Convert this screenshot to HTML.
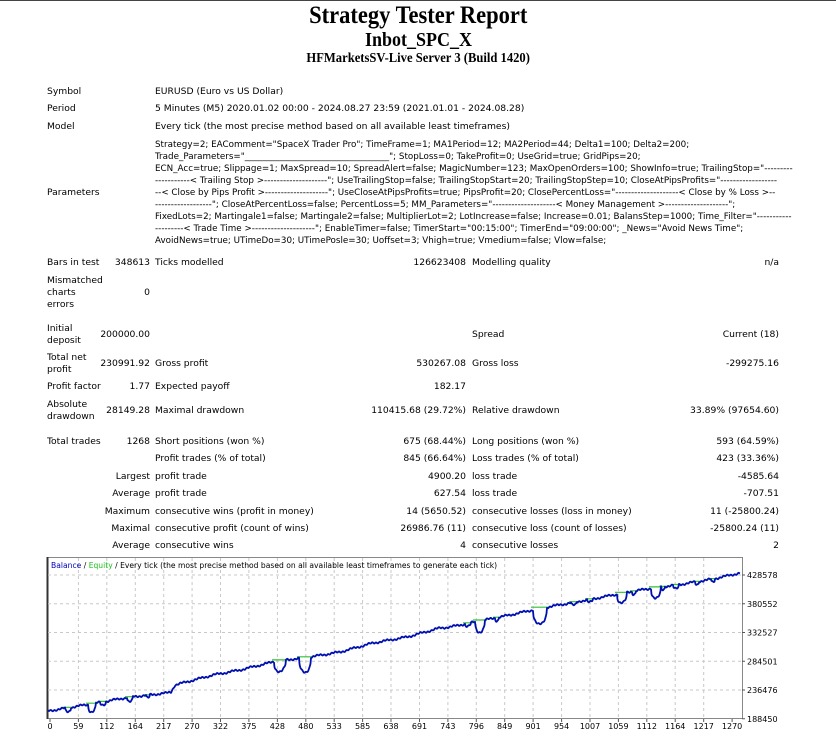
<!DOCTYPE html>
<html><head><meta charset="utf-8"><style>
body{margin:0;width:836px;height:737px;background:#fff;position:relative;overflow:hidden;font-family:"DejaVu Sans","Liberation Sans",sans-serif;font-size:9.2px;color:#000}
.t{position:absolute;white-space:nowrap;line-height:12px}
.r{text-align:right}
.h{position:absolute;left:0;width:836px;text-align:center;font-family:"Liberation Serif",serif;font-weight:bold;white-space:nowrap}
.h span{display:inline-block;transform:scaleX(0.9)}
</style></head><body>
<div style="position:absolute;left:0;top:0;width:836px;height:1px;background:#444"></div>
<div class="h" style="top:2px;font-size:25px;line-height:28px"><span>Strategy Tester Report</span></div>
<div class="h" style="top:28px;font-size:20px;line-height:24px"><span>Inbot_SPC_X</span></div>
<div class="h" style="top:51px;font-size:14px;line-height:16px"><span>HFMarketsSV-Live Server 3 (Build 1420)</span></div>

<div class="t" style="left:47px;top:86px">Symbol</div>
<div class="t" style="left:155px;top:86px">EURUSD (Euro vs US Dollar)</div>
<div class="t" style="left:47px;top:103px">Period</div>
<div class="t" style="left:155px;top:103px">5 Minutes (M5) 2020.01.02 00:00 - 2024.08.27 23:59 (2021.01.01 - 2024.08.28)</div>
<div class="t" style="left:47px;top:121px">Model</div>
<div class="t" style="left:155px;top:121px">Every tick (the most precise method based on all available least timeframes)</div>
<div class="t" style="left:47px;top:187px">Parameters</div>
<div class="t" style="left:155px;top:139px;font-size:8.75px">Strategy=2; EAComment="SpaceX Trader Pro"; TimeFrame=1; MA1Period=12; MA2Period=44; Delta1=100; Delta2=200;<br>Trade_Parameters="_________________________________"; StopLoss=0; TakeProfit=0; UseGrid=true; GridPips=20;<br>ECN_Acc=true; Slippage=1; MaxSpread=10; SpreadAlert=false; MagicNumber=123; MaxOpenOrders=100; ShowInfo=true; TrailingStop="---------<br>-----------&lt; Trailing Stop &gt;--------------------"; UseTrailingStop=false; TrailingStopStart=20; TrailingStopStep=10; CloseAtPipsProfits="------------------<br>--&lt; Close by Pips Profit &gt;--------------------"; UseCloseAtPipsProfits=true; PipsProfit=20; ClosePercentLoss="--------------------&lt; Close by % Loss &gt;--<br>------------------"; CloseAtPercentLoss=false; PercentLoss=5; MM_Parameters="--------------------&lt; Money Management &gt;--------------------";<br>FixedLots=2; Martingale1=false; Martingale2=false; MultiplierLot=2; LotIncrease=false; Increase=0.01; BalansStep=1000; Time_Filter="-----------<br>---------&lt; Trade Time &gt;--------------------"; EnableTimer=false; TimerStart="00:15:00"; TimerEnd="09:00:00"; _News="Avoid News Time";<br>AvoidNews=true; UTimeDo=30; UTimePosle=30; Uoffset=3; Vhigh=true; Vmedium=false; Vlow=false;</div>

<div class="t" style="left:47px;top:257px">Bars in test</div>
<div class="t r" style="right:686px;top:257px">348613</div>
<div class="t" style="left:155px;top:257px">Ticks modelled</div>
<div class="t r" style="right:370px;top:257px">126623408</div>
<div class="t" style="left:472px;top:257px">Modelling quality</div>
<div class="t r" style="right:57px;top:257px">n/a</div>

<div class="t" style="left:47px;top:275px">Mismatched<br>charts<br>errors</div>
<div class="t r" style="right:686px;top:287px">0</div>

<div class="t" style="left:47px;top:323px">Initial<br>deposit</div>
<div class="t r" style="right:686px;top:329px">200000.00</div>
<div class="t" style="left:472px;top:329px">Spread</div>
<div class="t r" style="right:57px;top:329px">Current (18)</div>

<div class="t" style="left:47px;top:352px">Total net<br>profit</div>
<div class="t r" style="right:686px;top:358px">230991.92</div>
<div class="t" style="left:155px;top:358px">Gross profit</div>
<div class="t r" style="right:370px;top:358px">530267.08</div>
<div class="t" style="left:472px;top:358px">Gross loss</div>
<div class="t r" style="right:57px;top:358px">-299275.16</div>

<div class="t" style="left:47px;top:381px">Profit factor</div>
<div class="t r" style="right:686px;top:381px">1.77</div>
<div class="t" style="left:155px;top:381px">Expected payoff</div>
<div class="t r" style="right:370px;top:381px">182.17</div>

<div class="t" style="left:47px;top:399px">Absolute<br>drawdown</div>
<div class="t r" style="right:686px;top:405px">28149.28</div>
<div class="t" style="left:155px;top:405px">Maximal drawdown</div>
<div class="t r" style="right:370px;top:405px">110415.68 (29.72%)</div>
<div class="t" style="left:472px;top:405px">Relative drawdown</div>
<div class="t r" style="right:57px;top:405px">33.89% (97654.60)</div>

<div class="t" style="left:47px;top:436px">Total trades</div>
<div class="t r" style="right:686px;top:436px">1268</div>
<div class="t" style="left:155px;top:436px">Short positions (won %)</div>
<div class="t r" style="right:370px;top:436px">675 (68.44%)</div>
<div class="t" style="left:472px;top:436px">Long positions (won %)</div>
<div class="t r" style="right:57px;top:436px">593 (64.59%)</div>

<div class="t" style="left:155px;top:453px">Profit trades (% of total)</div>
<div class="t r" style="right:370px;top:453px">845 (66.64%)</div>
<div class="t" style="left:472px;top:453px">Loss trades (% of total)</div>
<div class="t r" style="right:57px;top:453px">423 (33.36%)</div>

<div class="t r" style="right:686px;top:471px">Largest</div>
<div class="t" style="left:155px;top:471px">profit trade</div>
<div class="t r" style="right:370px;top:471px">4900.20</div>
<div class="t" style="left:472px;top:471px">loss trade</div>
<div class="t r" style="right:57px;top:471px">-4585.64</div>

<div class="t r" style="right:686px;top:488px">Average</div>
<div class="t" style="left:155px;top:488px">profit trade</div>
<div class="t r" style="right:370px;top:488px">627.54</div>
<div class="t" style="left:472px;top:488px">loss trade</div>
<div class="t r" style="right:57px;top:488px">-707.51</div>

<div class="t r" style="right:686px;top:506px">Maximum</div>
<div class="t" style="left:155px;top:506px">consecutive wins (profit in money)</div>
<div class="t r" style="right:370px;top:506px">14 (5650.52)</div>
<div class="t" style="left:472px;top:506px">consecutive losses (loss in money)</div>
<div class="t r" style="right:57px;top:506px">11 (-25800.24)</div>

<div class="t r" style="right:686px;top:523px">Maximal</div>
<div class="t" style="left:155px;top:523px">consecutive profit (count of wins)</div>
<div class="t r" style="right:370px;top:523px">26986.76 (11)</div>
<div class="t" style="left:472px;top:523px">consecutive loss (count of losses)</div>
<div class="t r" style="right:57px;top:523px">-25800.24 (11)</div>

<div class="t r" style="right:686px;top:540px">Average</div>
<div class="t" style="left:155px;top:540px">consecutive wins</div>
<div class="t r" style="right:370px;top:540px">4</div>
<div class="t" style="left:472px;top:540px">consecutive losses</div>
<div class="t r" style="right:57px;top:540px">2</div>

<svg id="ch" width="836" height="737" style="position:absolute;left:0;top:0" xmlns="http://www.w3.org/2000/svg">
<rect x="47.5" y="557.5" width="695" height="161" fill="#fff" stroke="#888"/>
<line x1="47.5" y1="557" x2="47.5" y2="719" stroke="#333" stroke-width="2"/>
<g id="grid" stroke="#c8c8c8" stroke-dasharray="3,3" stroke-width="1"></g>
<text x="51" y="568" font-family="DejaVu Sans,sans-serif" font-size="7.6" fill="#000"><tspan fill="#0000c0">Balance</tspan> / <tspan fill="#20c020">Equity</tspan> / Every tick (the most precise method based on all available least timeframes to generate each tick)</text>
<g id="lab" font-family="DejaVu Sans,sans-serif" font-size="8" fill="#000"></g>
<g id="ser"></g>
</svg>
<script>
var ns="http://www.w3.org/2000/svg";
function el(p,t,a,txt){var e=document.createElementNS(ns,t);for(var k in a)e.setAttribute(k,a[k]);if(txt!==undefined)e.textContent=txt;document.getElementById(p).appendChild(e);return e;}
var xt=[0,59,112,164,217,270,322,375,428,480,533,585,638,691,743,796,849,901,954,1007,1059,1112,1164,1217,1270];
for(var i=0;i<xt.length;i++){var x=50+i*28.42;
 if(i>0&&i<24)el("grid","line",{x1:x.toFixed(1),y1:558,x2:x.toFixed(1),y2:718});
 el("lab","line",{x1:x.toFixed(1),y1:719,x2:x.toFixed(1),y2:722,stroke:"#555"});
 el("lab","text",{x:x.toFixed(1),y:729,"text-anchor":"middle"},xt[i]);}
var yl=["428578","380552","332527","284501","236476","188450"];
for(var j=0;j<6;j++){var y=575+j*28.75;
 if(j<5)el("grid","line",{x1:48,y1:y,x2:742,y2:y});
 el("lab","line",{x1:742,y1:y,x2:745,y2:y,stroke:"#555"});
 el("lab","text",{x:747,y:y+3},yl[j]);}
var K=[[48,711],[73,707],[97,703],[130,697],[167,693],[171,692],[175,685],[213,675],[240,670],[277,661],[310,657],[340,652],[373,643],[407,637],[440,628],[450,627],[480,621],[510,615],[537,609],[570,603],[603,597],[623,593],[653,588],[683,584],[713,579],[740,573]];
function base(x){for(var i=0;i<K.length-1;i++){if(x<=K[i+1][0]){var t=(x-K[i][0])/(K[i+1][0]-K[i][0]);return K[i][1]+t*(K[i+1][1]-K[i][1]);}}return K[K.length-1][1];}
var D=[[68,3,4],[92,4,8],[103,3,3],[130,3,5],[148,2,3],[280,6,11],[305,6,15],[468,3,3],[480,5,11],[497,2,3],[540,7,16],[574,3,3],[590,3,3],[622,5,10],[634,2,3],[656,5,11],[663,2,3],[676,3,4],[697,2,3],[713,2,3]];
var b="",g="";
for(var x=48;x<=740;x+=0.5){var y=base(x)+Math.sin(x*1.7)*0.6+Math.sin(x*0.37)*0.7;var d=0;
 for(var k=0;k<D.length;k++){var u=(x-D[k][0])/D[k][1];if(Math.abs(u)<1)d=Math.max(d,D[k][2]*Math.sqrt(1-u*u));}
 b+=(b?"L":"M")+x.toFixed(1)+","+(y+d).toFixed(1);}
for(var k=0;k<D.length;k++){var c=D[k][0],w=D[k][1],yy=Math.min(base(c-w),base(c+w));g+="M"+(c-w-2)+","+yy.toFixed(1)+"L"+(c+w+2)+","+yy.toFixed(1);}
el("ser","path",{d:g,stroke:"#30c030","stroke-width":1.2,fill:"none"});
el("ser","path",{d:b,stroke:"#0010b0","stroke-width":1.8,fill:"none","stroke-linejoin":"round"});
</script>
</body></html>
